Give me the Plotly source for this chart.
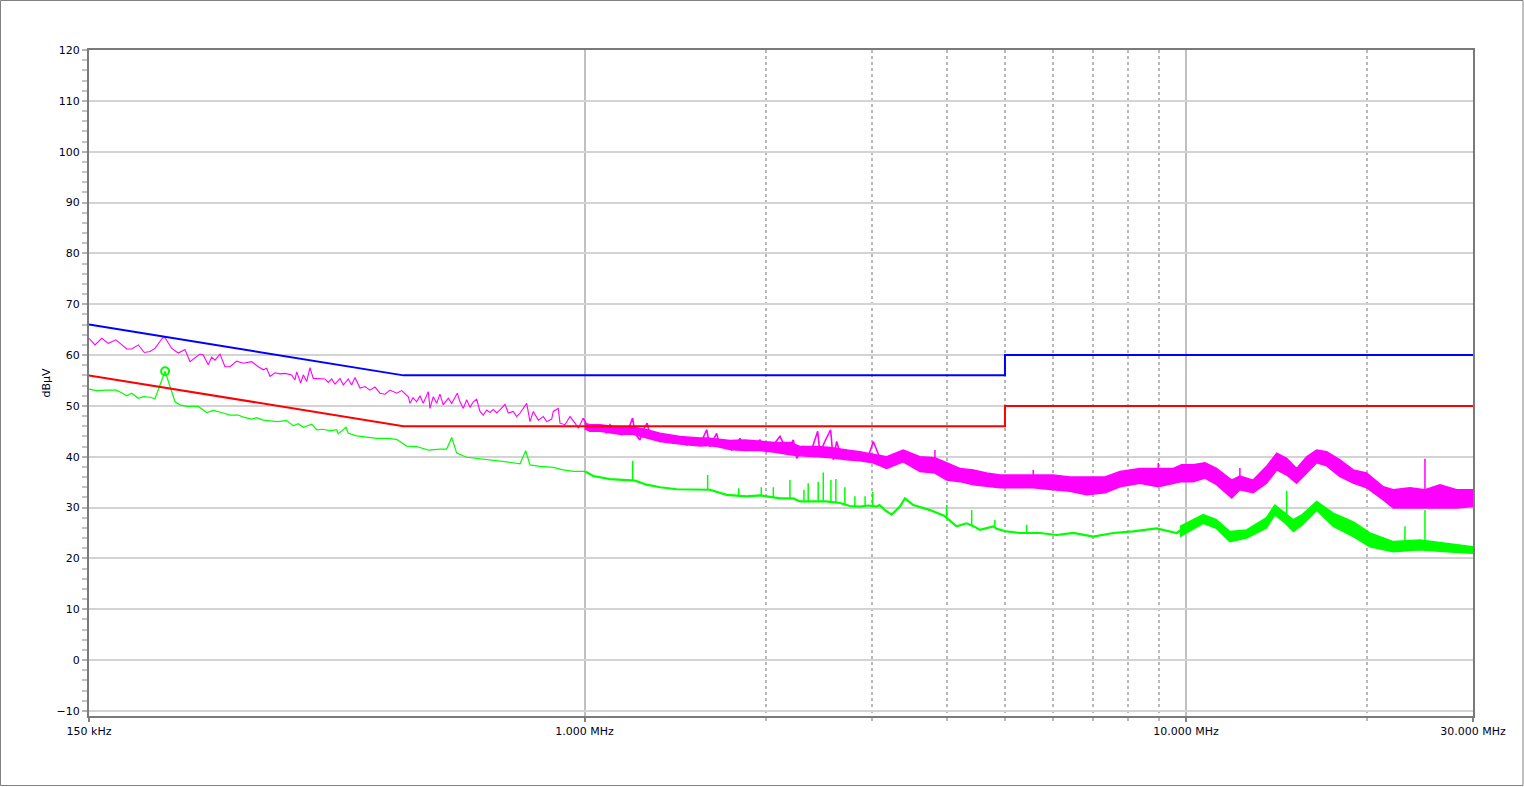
import math
import plotly.graph_objects as go

# ---------------- data (frequencies in MHz, levels in dBµV) ----------------
# Peak detector trace, low-frequency part (thin jagged line)
peak_low_f = [
    0.150, 0.1535, 0.1575, 0.1615, 0.1663, 0.1733, 0.1766, 0.1812, 0.1854, 0.1895,
    0.1931, 0.1989, 0.2007, 0.2059, 0.2111, 0.2166, 0.2208, 0.2251, 0.2294, 0.2323,
    0.2368, 0.2399, 0.2430, 0.2477, 0.2524, 0.2573, 0.2640, 0.2708, 0.2796, 0.2868,
    0.2923, 0.2961, 0.2999, 0.3057, 0.3116, 0.3176, 0.3259, 0.3300, 0.3322, 0.3373,
    0.3407, 0.3452, 0.3495, 0.3540, 0.3608, 0.3702, 0.3749, 0.3798, 0.3846, 0.3921,
    0.3971, 0.4047, 0.4100, 0.4152, 0.4233, 0.4315, 0.4398, 0.4483, 0.4570, 0.4658,
    0.4748, 0.4871, 0.4965,
    0.5093, 0.5126, 0.5185, 0.5259, 0.5326, 0.5393, 0.5498, 0.5533, 0.5604, 0.5677,
    0.5749, 0.5822, 0.5935, 0.6013, 0.6143, 0.6207, 0.6286, 0.6369, 0.6450, 0.6532,
    0.6617, 0.6701, 0.6787, 0.6875, 0.6962, 0.7051, 0.7143, 0.7234, 0.7374, 0.7468,
    0.7612, 0.7712, 0.7810, 0.8013, 0.8115, 0.8218, 0.8377, 0.8539, 0.8650, 0.8818,
    0.8872, 0.9043, 0.9103, 0.9279, 0.9458, 0.9641, 0.9764, 0.9951,
]
peak_low_db = [
    63.3, 62.0, 63.3, 62.3, 63.0, 61.2, 61.2, 62.0, 60.5, 60.7,
    61.3, 63.4, 63.4, 61.3, 60.4, 61.1, 58.7, 59.4, 60.2, 60.0,
    58.1, 59.6, 59.0, 60.2, 57.7, 57.7, 58.8, 58.4, 58.7, 57.7,
    57.1, 57.4, 55.8, 56.5, 56.3, 56.4, 56.1, 55.1, 56.7, 54.5,
    56.1, 54.8, 57.5, 55.4, 55.3, 55.3, 54.6, 55.3, 54.3, 55.4,
    54.1, 55.3, 54.1, 55.6, 53.5, 53.8, 53.1, 53.7, 52.5, 52.3,
    53.1, 52.5, 53.0,
    51.8, 50.5, 51.6, 50.8, 52.0, 50.5, 52.8, 49.5, 51.8, 50.5,
    52.3, 50.2, 51.5, 50.5, 52.5, 50.8, 49.5, 51.2, 49.7, 50.8,
    51.3, 48.9, 48.2, 49.2, 48.7, 49.3, 48.6, 49.2, 50.3, 48.6,
    48.9, 47.9, 48.6, 50.5, 46.9, 48.9, 47.2, 47.9, 46.9, 47.4,
    48.9, 49.5, 46.6, 46.3, 47.9, 46.6, 45.6, 47.6,
]

# Peak detector trace, 1 - 3.3 MHz jagged readings (drawn over the band)
peak_mid_f = [
    0.9951, 1.008, 1.027, 1.047, 1.068, 1.088, 1.102, 1.123, 1.138, 1.153,
    1.175, 1.202, 1.213, 1.236, 1.252, 1.271, 1.285, 1.310, 1.335, 1.369,
    1.404, 1.441, 1.478, 1.516, 1.555, 1.596, 1.616, 1.658, 1.679, 1.723,
    1.757, 1.813, 1.848, 1.907, 1.957, 2.008, 2.060, 2.113, 2.168, 2.224,
    2.253, 2.310, 2.370, 2.441, 2.462, 2.509, 2.565, 2.591, 2.625, 2.675,
    2.727, 2.798, 2.870, 2.944, 3.020, 3.099, 3.179, 3.219, 3.303,
]
peak_mid_db = [
    47.6, 46.3, 45.3, 46.3, 45.9, 44.6, 46.3, 45.3, 45.9, 44.3,
    44.6, 47.6, 44.6, 43.3, 45.3, 46.6, 44.0, 44.6, 43.0, 43.6,
    42.7, 43.3, 42.3, 43.0, 42.3, 45.3, 42.0, 44.6, 42.0, 42.7,
    41.3, 43.6, 41.3, 42.0, 43.3, 41.0, 42.3, 44.0, 41.3, 43.3,
    39.7, 42.0, 40.4, 45.0, 40.7, 43.0, 45.3, 39.4, 43.0, 39.7,
    41.3, 39.4, 40.7, 39.0, 43.0, 39.7, 39.4, 38.4, 40.4,
]

# Peak detector trace, high-frequency part (dense noisy band: upper / lower edge)
peak_band_f = [
    1.00, 1.021, 1.061, 1.145, 1.204, 1.270, 1.335, 1.441, 1.555, 1.598,
    1.660, 1.745, 1.848, 1.957, 2.073, 2.195, 2.281, 2.443, 2.568, 2.727,
    2.870, 3.016, 3.179, 3.387, 3.611, 3.824, 3.999, 4.208, 4.429, 4.661,
    4.905, 5.161, 5.572, 6.015, 6.412, 6.834, 7.334, 7.767, 8.381, 8.992,
    9.522, 9.83, 10.28, 10.75, 11.24, 11.91, 12.29, 12.93, 13.61, 14.15,
    14.70, 15.27, 15.87, 16.49, 17.13, 18.03, 18.97, 19.96, 21.28, 22.11,
    23.57, 24.96, 26.43, 28.18, 30.0,
]
peak_band_hi = [
    46.6, 46.3, 46.3, 45.8, 45.8, 45.3, 44.6, 44.0, 43.7, 43.7,
    43.5, 43.2, 43.3, 43.0, 42.8, 42.8, 42.0, 42.0, 41.8, 41.3,
    41.0, 40.5, 40.0, 41.3, 40.0, 39.8, 38.8, 37.7, 37.4, 36.8,
    36.4, 36.4, 36.4, 36.4, 36.0, 36.0, 36.0, 37.1, 37.7, 37.7,
    37.7, 38.4, 38.4, 38.8, 37.7, 35.4, 36.2, 35.4, 38.1, 40.7,
    39.7, 37.7, 40.0, 41.3, 41.0, 39.4, 37.4, 36.8, 34.1, 33.5,
    33.9, 33.5, 34.5, 33.5, 33.5,
]
peak_band_lo = [
    45.5, 45.0, 45.0, 44.4, 44.4, 43.6, 43.0, 42.5, 42.1, 42.2,
    42.0, 41.4, 41.2, 41.2, 40.9, 40.4, 40.2, 40.0, 39.8, 39.4,
    39.2, 38.8, 37.7, 39.0, 37.1, 36.8, 35.4, 35.1, 34.5, 34.2,
    33.9, 33.9, 33.9, 33.5, 33.2, 32.5, 32.9, 34.1, 34.8, 34.1,
    34.8, 35.1, 35.1, 35.8, 34.5, 31.9, 33.5, 32.9, 34.8, 37.4,
    36.4, 34.8, 36.8, 38.8, 38.2, 36.1, 34.8, 33.9, 31.5, 29.9,
    29.9, 29.9, 29.9, 29.9, 30.2,
]
# Narrow spikes standing out of the peak band
peak_spike_f = [3.824, 5.572, 8.992, 12.29, 24.96]
peak_spike_top = [41.3, 37.4, 38.8, 37.8, 39.6]
peak_spike_base = [39.0, 35.5, 36.5, 35.0, 32.5]

# Average detector trace, below 1 MHz (thin line)
avg_low_f = [
    0.150, 0.1545, 0.1605, 0.1663, 0.1700, 0.1733, 0.1766, 0.1812, 0.1847, 0.1895,
    0.1931, 0.2007, 0.2085, 0.2125, 0.2180, 0.2279, 0.2354, 0.2414, 0.2508, 0.2573,
    0.2656, 0.2708, 0.2796, 0.2850, 0.2923, 0.2999, 0.3077, 0.3197, 0.3279, 0.3342,
    0.3407, 0.3518, 0.3586, 0.3678, 0.3774, 0.3871, 0.3895, 0.4012, 0.4047, 0.4180,
    0.4343, 0.4512, 0.4688, 0.4871, 0.4933, 0.5061, 0.5259, 0.5498, 0.5749, 0.5899,
    0.6013, 0.6129, 0.6369, 0.6617, 0.6875, 0.7143, 0.7422, 0.7810, 0.7982, 0.8115,
    0.8432, 0.8872, 0.9218, 0.9579, 1.002,
]
avg_low_db = [
    53.3, 53.0, 53.1, 53.1, 52.6, 52.0, 52.5, 51.5, 51.8, 51.7,
    51.4, 56.8, 50.8, 50.2, 49.9, 49.9, 48.7, 49.1, 48.6, 48.2,
    48.2, 47.8, 47.4, 47.7, 47.2, 47.1, 46.9, 47.1, 46.1, 46.5,
    45.8, 46.4, 45.3, 45.4, 45.1, 45.3, 44.5, 45.8, 44.6, 44.1,
    43.8, 43.6, 43.6, 43.4, 43.0, 42.1, 42.0, 41.3, 41.5, 41.5,
    43.8, 40.7, 39.9, 39.7, 39.4, 39.2, 39.0, 38.6, 41.2, 38.4,
    38.1, 37.9, 37.4, 37.1, 37.1,
]
# Average detector trace, 1 MHz to 10.5 MHz (base line)
avg_mid_f = [
    1.002, 1.034, 1.102, 1.175, 1.213, 1.268, 1.335, 1.423, 1.516, 1.616,
    1.723, 1.860, 1.957, 2.008, 2.113, 2.224, 2.281, 2.400, 2.520, 2.659,
    2.763, 2.870, 2.960, 3.059, 3.093, 3.158, 3.240, 3.344, 3.409, 3.520,
    3.752, 3.960, 4.040, 4.155, 4.318, 4.440, 4.543, 4.780, 4.850, 5.031,
    5.294, 5.716, 6.095, 6.494, 7.010, 7.568, 8.170, 8.934, 9.647, 10.15,
    10.55,
]
avg_mid_db = [
    37.1, 36.2, 35.6, 35.4, 35.3, 34.5, 34.0, 33.6, 33.5, 33.5,
    32.5, 32.2, 32.4, 32.2, 31.8, 31.8, 31.2, 31.2, 31.2, 30.9,
    30.3, 30.2, 30.4, 30.2, 30.5, 29.5, 28.6, 30.2, 31.8, 30.5,
    29.5, 28.4, 27.6, 26.3, 26.9, 26.3, 25.6, 26.3, 25.8, 25.3,
    25.0, 25.0, 24.6, 25.0, 24.3, 25.0, 25.3, 25.9, 25.0, 26.9,
    27.9,
]
# Average detector trace, high-frequency band (upper / lower edge)
avg_band_f = [9.77, 10.68, 11.23, 11.83, 12.61, 13.61, 14.05, 14.60, 15.08, 15.60,
              16.49, 17.57, 18.97, 20.22, 22.11, 24.48, 27.13, 30.0]
avg_band_hi = [26.3, 28.6, 27.6, 25.3, 25.6, 28.0, 30.5, 29.0, 27.6, 28.6,
               31.2, 28.9, 27.2, 25.0, 23.3, 23.6, 23.0, 22.3]
avg_band_lo = [24.3, 26.9, 25.9, 23.3, 24.0, 26.0, 28.6, 27.0, 25.3, 26.6,
               29.5, 26.3, 24.3, 22.3, 21.3, 21.7, 21.3, 21.0]
# Narrow spikes of the average trace
avg_spike_f = [1.202, 1.602, 1.804, 1.967, 2.060, 2.195, 2.316, 2.354, 2.446, 2.494,
               2.568, 2.617, 2.709, 2.815, 2.927, 3.012, 3.999, 4.402, 4.810, 5.433,
               14.70, 23.12, 24.96]
avg_spike_top = [39.2, 36.4, 33.8, 34.0, 34.0, 35.4, 33.5, 34.8, 35.1, 36.9,
                 35.4, 35.6, 34.0, 32.2, 32.2, 33.1, 30.5, 29.5, 27.6, 26.6,
                 33.3, 26.3, 29.5]
avg_spike_base = [35.3, 33.5, 32.4, 32.3, 32.0, 31.8, 31.2, 31.2, 31.2, 31.2,
                  31.1, 31.0, 30.6, 30.3, 30.3, 30.3, 28.0, 26.4, 26.0, 25.0,
                  28.0, 22.5, 22.5]

# Marker on the average trace
marker_f = [0.2007]
marker_db = [56.8]

# Limit lines
qp_limit_f = [0.15, 0.5, 5.0, 5.0, 30.0]
qp_limit_db = [66, 56, 56, 60, 60]
av_limit_f = [0.15, 0.5, 5.0, 5.0, 30.0]
av_limit_db = [56, 46, 46, 50, 50]

# Axis ticks
x_tick_vals = [0.15, 1, 10, 30]
x_tick_text = ["150 kHz", "1.000 MHz", "10.000 MHz", "30.000 MHz"]
x_minor_vals = [2, 3, 4, 5, 6, 7, 8, 9, 20]

MAGENTA = "#ff00ff"
GREEN = "#00ff00"


def spikes(fs, tops, bases):
    xs, ys = [], []
    for f, t, b in zip(fs, tops, bases):
        xs += [f, f, None]
        ys += [b, t, None]
    return xs, ys


fig = go.Figure()

# --- peak trace ---
fig.add_trace(go.Scatter(x=peak_low_f, y=peak_low_db, mode="lines",
                         line=dict(color=MAGENTA, width=1.1)))
fig.add_trace(go.Scatter(x=peak_band_f, y=peak_band_lo, mode="lines",
                         line=dict(color=MAGENTA, width=1.5)))
fig.add_trace(go.Scatter(x=peak_band_f, y=peak_band_hi, mode="lines", fill="tonexty",
                         fillcolor=MAGENTA, line=dict(color=MAGENTA, width=1.5)))
fig.add_trace(go.Scatter(x=peak_mid_f, y=peak_mid_db, mode="lines",
                         line=dict(color=MAGENTA, width=1.6)))
sx, sy = spikes(peak_spike_f, peak_spike_top, peak_spike_base)
fig.add_trace(go.Scatter(x=sx, y=sy, mode="lines", line=dict(color=MAGENTA, width=1.5)))

# --- average trace ---
fig.add_trace(go.Scatter(x=avg_low_f, y=avg_low_db, mode="lines",
                         line=dict(color=GREEN, width=1.2)))
fig.add_trace(go.Scatter(x=avg_mid_f, y=avg_mid_db, mode="lines",
                         line=dict(color=GREEN, width=2.2)))
fig.add_trace(go.Scatter(x=avg_band_f, y=avg_band_lo, mode="lines",
                         line=dict(color=GREEN, width=1.5)))
fig.add_trace(go.Scatter(x=avg_band_f, y=avg_band_hi, mode="lines", fill="tonexty",
                         fillcolor=GREEN, line=dict(color=GREEN, width=1.5)))
gx, gy = spikes(avg_spike_f, avg_spike_top, avg_spike_base)
fig.add_trace(go.Scatter(x=gx, y=gy, mode="lines", line=dict(color=GREEN, width=1.5)))
fig.add_trace(go.Scatter(x=marker_f, y=marker_db, mode="markers",
                         marker=dict(symbol="circle-open", size=8, color=GREEN,
                                     line=dict(width=2, color="#00dd00"))))

# --- limits ---
fig.add_trace(go.Scatter(x=qp_limit_f, y=qp_limit_db, mode="lines",
                         line=dict(color="#0000ff", width=2)))
fig.add_trace(go.Scatter(x=av_limit_f, y=av_limit_db, mode="lines",
                         line=dict(color="#ff0000", width=2)))

W, H = 1524, 787
ML, MR, MT, MB = 89, 51, 50, 71
pw, ph = W - ML - MR, H - MT - MB

fig.update_layout(
    width=W, height=H,
    margin=dict(l=ML, r=MR, t=MT, b=MB, pad=0),
    paper_bgcolor="white", plot_bgcolor="white",
    showlegend=False,
    font=dict(family="DejaVu Sans, Verdana, sans-serif", size=11, color="#000020"),
    xaxis=dict(
        type="log",
        range=[math.log10(0.15), math.log10(30)],
        tickmode="array", tickvals=x_tick_vals, ticktext=x_tick_text,
        showgrid=True, gridcolor="#c0c0c0", gridwidth=2,
        showline=True, linecolor="#7a7a7a", linewidth=2, mirror=True,
        ticks="outside", ticklen=4, tickwidth=2, tickcolor="#808080",
        zeroline=False,
        tickfont=dict(size=11),
        minor=dict(tickmode="array", tickvals=x_minor_vals, showgrid=True,
                   gridcolor="#b8b8b8", gridwidth=2, griddash="dot",
                   ticks="outside", ticklen=3, tickcolor="#b8b8b8", tickwidth=2),
    ),
    yaxis=dict(
        range=[-11, 120],
        tickmode="linear", tick0=0, dtick=10,
        showgrid=True, gridcolor="#d3d3d3", gridwidth=2,
        showline=True, linecolor="#7a7a7a", linewidth=2, mirror=True,
        ticks="outside", ticklen=5, tickwidth=2, tickcolor="#b4b4b4",
        zeroline=False,
        tickfont=dict(size=11),
        minor=dict(dtick=2, ticks="outside", ticklen=5, tickwidth=2,
                   tickcolor="#c4c4c4", showgrid=False),
        title=dict(text="dBµV", standoff=4, font=dict(size=11)),
    ),
    shapes=[dict(type="rect", xref="paper", yref="paper", layer="above",
                 x0=-(ML - 0.5) / pw, x1=(W - ML - 1) / pw,
                 y0=-(MB - 1.5) / ph, y1=(ph + MT - 0.5) / ph,
                 line=dict(color="#808080", width=1), fillcolor="rgba(0,0,0,0)")],
)

fig.write_html("out.html", config={"displayModeBar": False},
               post_script="document.body.style.margin='0px';")
